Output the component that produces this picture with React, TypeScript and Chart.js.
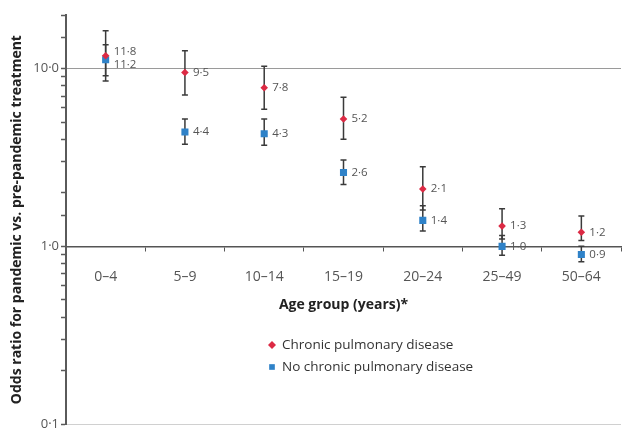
import React, { useEffect, useRef } from 'react';
import { Chart, registerables } from 'chart.js';

Chart.register(...registerables);

// ---- data ----
const ageGroups = ['0–4', '5–9', '10–14', '15–19', '20–24', '25–49', '50–64'];
const seriesNames = ['Chronic pulmonary disease', 'No chronic pulmonary disease'];

const chronicOR = [11.8, 9.5, 7.8, 5.2, 2.1, 1.3, 1.2];
const chronicLow = [8.5, 7.1, 5.9, 4.0, 1.6, 1.1, 1.08];
const chronicHigh = [16.3, 12.6, 10.3, 6.9, 2.8, 1.63, 1.48];

const noChronicOR = [11.2, 4.4, 4.3, 2.6, 1.4, 1.0, 0.9];
const noChronicLow = [9.1, 3.75, 3.7, 2.23, 1.22, 0.89, 0.82];
const noChronicHigh = [13.6, 5.2, 5.2, 3.06, 1.69, 1.15, 1.0];

const yLabelledTicks = [0.1, 1, 10];
const yMin = 0.1;
const yMax = 20;

const seriesColors = ['#dc2a44', '#2f82c8'];
const seriesMarkers = ['rectRot', 'rect'];

const FONT = "'Open Sans', 'Noto Sans', sans-serif";
const fmt = (v: number) => v.toFixed(1).replace('.', '\u00B7');
const isTick = (v: number, t: number) => Math.abs(v - t) < t * 1e-6;

function drawMarker(ctx: CanvasRenderingContext2D, style: string, x: number, y: number, r: number, color: string) {
  ctx.save();
  ctx.fillStyle = color;
  ctx.beginPath();
  if (style === 'rectRot') {
    ctx.moveTo(x - r, y);
    ctx.lineTo(x, y - r);
    ctx.lineTo(x + r, y);
    ctx.lineTo(x, y + r);
    ctx.closePath();
  } else {
    const s = r * Math.SQRT1_2;
    ctx.rect(x - s, y - s, 2 * s, 2 * s);
  }
  ctx.fill();
  ctx.restore();
}

const errorBarPlugin = {
  id: 'errorBars',
  beforeDatasetsDraw(chart: any) {
    const { ctx } = chart;
    const yScale = chart.scales.y;
    ctx.save();
    ctx.strokeStyle = '#3a3a3a';
    ctx.lineWidth = 1.5;
    chart.data.datasets.forEach((ds: any, di: number) => {
      const meta = chart.getDatasetMeta(di);
      meta.data.forEach((pt: any, i: number) => {
        const x = pt.x;
        const yLo = yScale.getPixelForValue(ds.errLow[i]);
        const yHi = yScale.getPixelForValue(ds.errHigh[i]);
        ctx.beginPath();
        ctx.moveTo(x, yLo);
        ctx.lineTo(x, yHi);
        ctx.moveTo(x - 3, yLo);
        ctx.lineTo(x + 3, yLo);
        ctx.moveTo(x - 3, yHi);
        ctx.lineTo(x + 3, yHi);
        ctx.stroke();
      });
    });
    ctx.restore();
  },
};

const valueLabelPlugin = {
  id: 'valueLabels',
  afterDatasetsDraw(chart: any) {
    const { ctx } = chart;
    const metas = chart.data.datasets.map((_: any, di: number) => chart.getDatasetMeta(di));
    ctx.save();
    ctx.font = `11.5px ${FONT}`;
    ctx.fillStyle = '#555';
    ctx.textAlign = 'left';
    ctx.textBaseline = 'middle';
    chart.data.datasets.forEach((ds: any, di: number) => {
      metas[di].data.forEach((pt: any, i: number) => {
        let y = pt.y;
        const other = metas[1 - di]?.data[i];
        if (other) {
          const diff = Math.abs(other.y - pt.y);
          if (diff < 13) {
            const mid = (other.y + pt.y) / 2;
            y = pt.y <= other.y ? mid - 6.5 : mid + 6.5;
          }
        }
        ctx.fillText(fmt(ds.data[i]), pt.x + 8, y);
      });
    });
    ctx.restore();
  },
};

const legendPlugin = {
  id: 'innerLegend',
  afterDraw(chart: any) {
    const { ctx } = chart;
    ctx.save();
    ctx.font = `13.5px ${FONT}`;
    ctx.fillStyle = '#333';
    ctx.textAlign = 'left';
    ctx.textBaseline = 'middle';
    chart.data.datasets.forEach((ds: any, di: number) => {
      const y = 345 + di * 22;
      drawMarker(ctx, seriesMarkers[di], 272, y, 4, seriesColors[di]);
      ctx.fillText(ds.label, 282, y);
    });
    ctx.restore();
  },
};

export default function App() {
  const ref = useRef<HTMLCanvasElement>(null);

  useEffect(() => {
    document.body.style.margin = '0';
    document.body.style.overflow = 'hidden';
    document.documentElement.style.overflow = 'hidden';
    Chart.defaults.font.family = FONT;

    const chart = new Chart(ref.current as HTMLCanvasElement, {
      type: 'line',
      data: {
        labels: ageGroups,
        datasets: [
          {
            label: seriesNames[0],
            data: chronicOR,
            errLow: chronicLow,
            errHigh: chronicHigh,
            showLine: false,
            pointStyle: seriesMarkers[0],
            pointRadius: 3.8,
            pointBackgroundColor: seriesColors[0],
            pointBorderColor: seriesColors[0],
            pointBorderWidth: 0,
            borderColor: seriesColors[0],
            backgroundColor: seriesColors[0],
          } as any,
          {
            label: seriesNames[1],
            data: noChronicOR,
            errLow: noChronicLow,
            errHigh: noChronicHigh,
            showLine: false,
            pointStyle: seriesMarkers[1],
            pointRadius: 5,
            pointBackgroundColor: seriesColors[1],
            pointBorderColor: seriesColors[1],
            pointBorderWidth: 0,
            borderColor: seriesColors[1],
            backgroundColor: seriesColors[1],
          } as any,
        ],
      },
      options: {
        responsive: false,
        animation: false,
        events: [],
        layout: { padding: { top: 15, bottom: 7, right: 0, left: 0 } },
        plugins: {
          legend: { display: false },
          tooltip: { enabled: false },
        },
        scales: {
          x: {
            type: 'category',
            position: { y: 1 } as any,
            offset: true,
            grid: {
              offset: true,
              drawOnChartArea: false,
              tickLength: 4,
              color: '#555',
              tickColor: '#555',
              tickWidth: 1,
            },
            border: { display: true, color: '#555', width: 1.5 },
            ticks: {
              autoSkip: false,
              maxRotation: 0,
              padding: 18,
              color: '#555',
              font: { size: 14, family: FONT },
            },
            title: {
              display: true,
              text: 'Age group (years)*',
              color: '#222',
              font: { size: 14, weight: 'bold', family: FONT },
              padding: { top: -7, bottom: 0 },
            },
          },
          y: {
            type: 'logarithmic',
            min: yMin,
            max: yMax,
            afterFit: (s: any) => {
              s.width = 66;
            },
            border: { display: true, color: '#5a5a5a', width: 2 },
            grid: {
              color: (c: any) => {
                const v = c.tick?.value;
                if (v === undefined) return 'rgba(0,0,0,0)';
                if (isTick(v, 10)) return '#9a9a9a';
                if (isTick(v, 0.1)) return '#d0d0d0';
                return 'rgba(0,0,0,0)';
              },
              tickColor: '#5a5a5a',
              tickLength: 5,
              tickWidth: 1.5,
              lineWidth: 1,
            },
            ticks: {
              autoSkip: false,
              padding: 2,
              color: '#555',
              font: { size: 13, family: FONT },
              callback: (v: any) => {
                const n = Number(v);
                return yLabelledTicks.some((t) => isTick(n, t)) ? fmt(n) : '';
              },
            },
            title: {
              display: true,
              text: 'Odds ratio for pandemic vs. pre-pandemic treatment',
              color: '#222',
              font: { size: 14, weight: 'bold', family: FONT },
              padding: { top: 9, bottom: 0 },
            },
          },
        },
      },
      plugins: [errorBarPlugin, valueLabelPlugin, legendPlugin],
    });

    return () => chart.destroy();
  }, []);

  return <canvas ref={ref} width={626} height={434} style={{ display: 'block' }} />;
}
